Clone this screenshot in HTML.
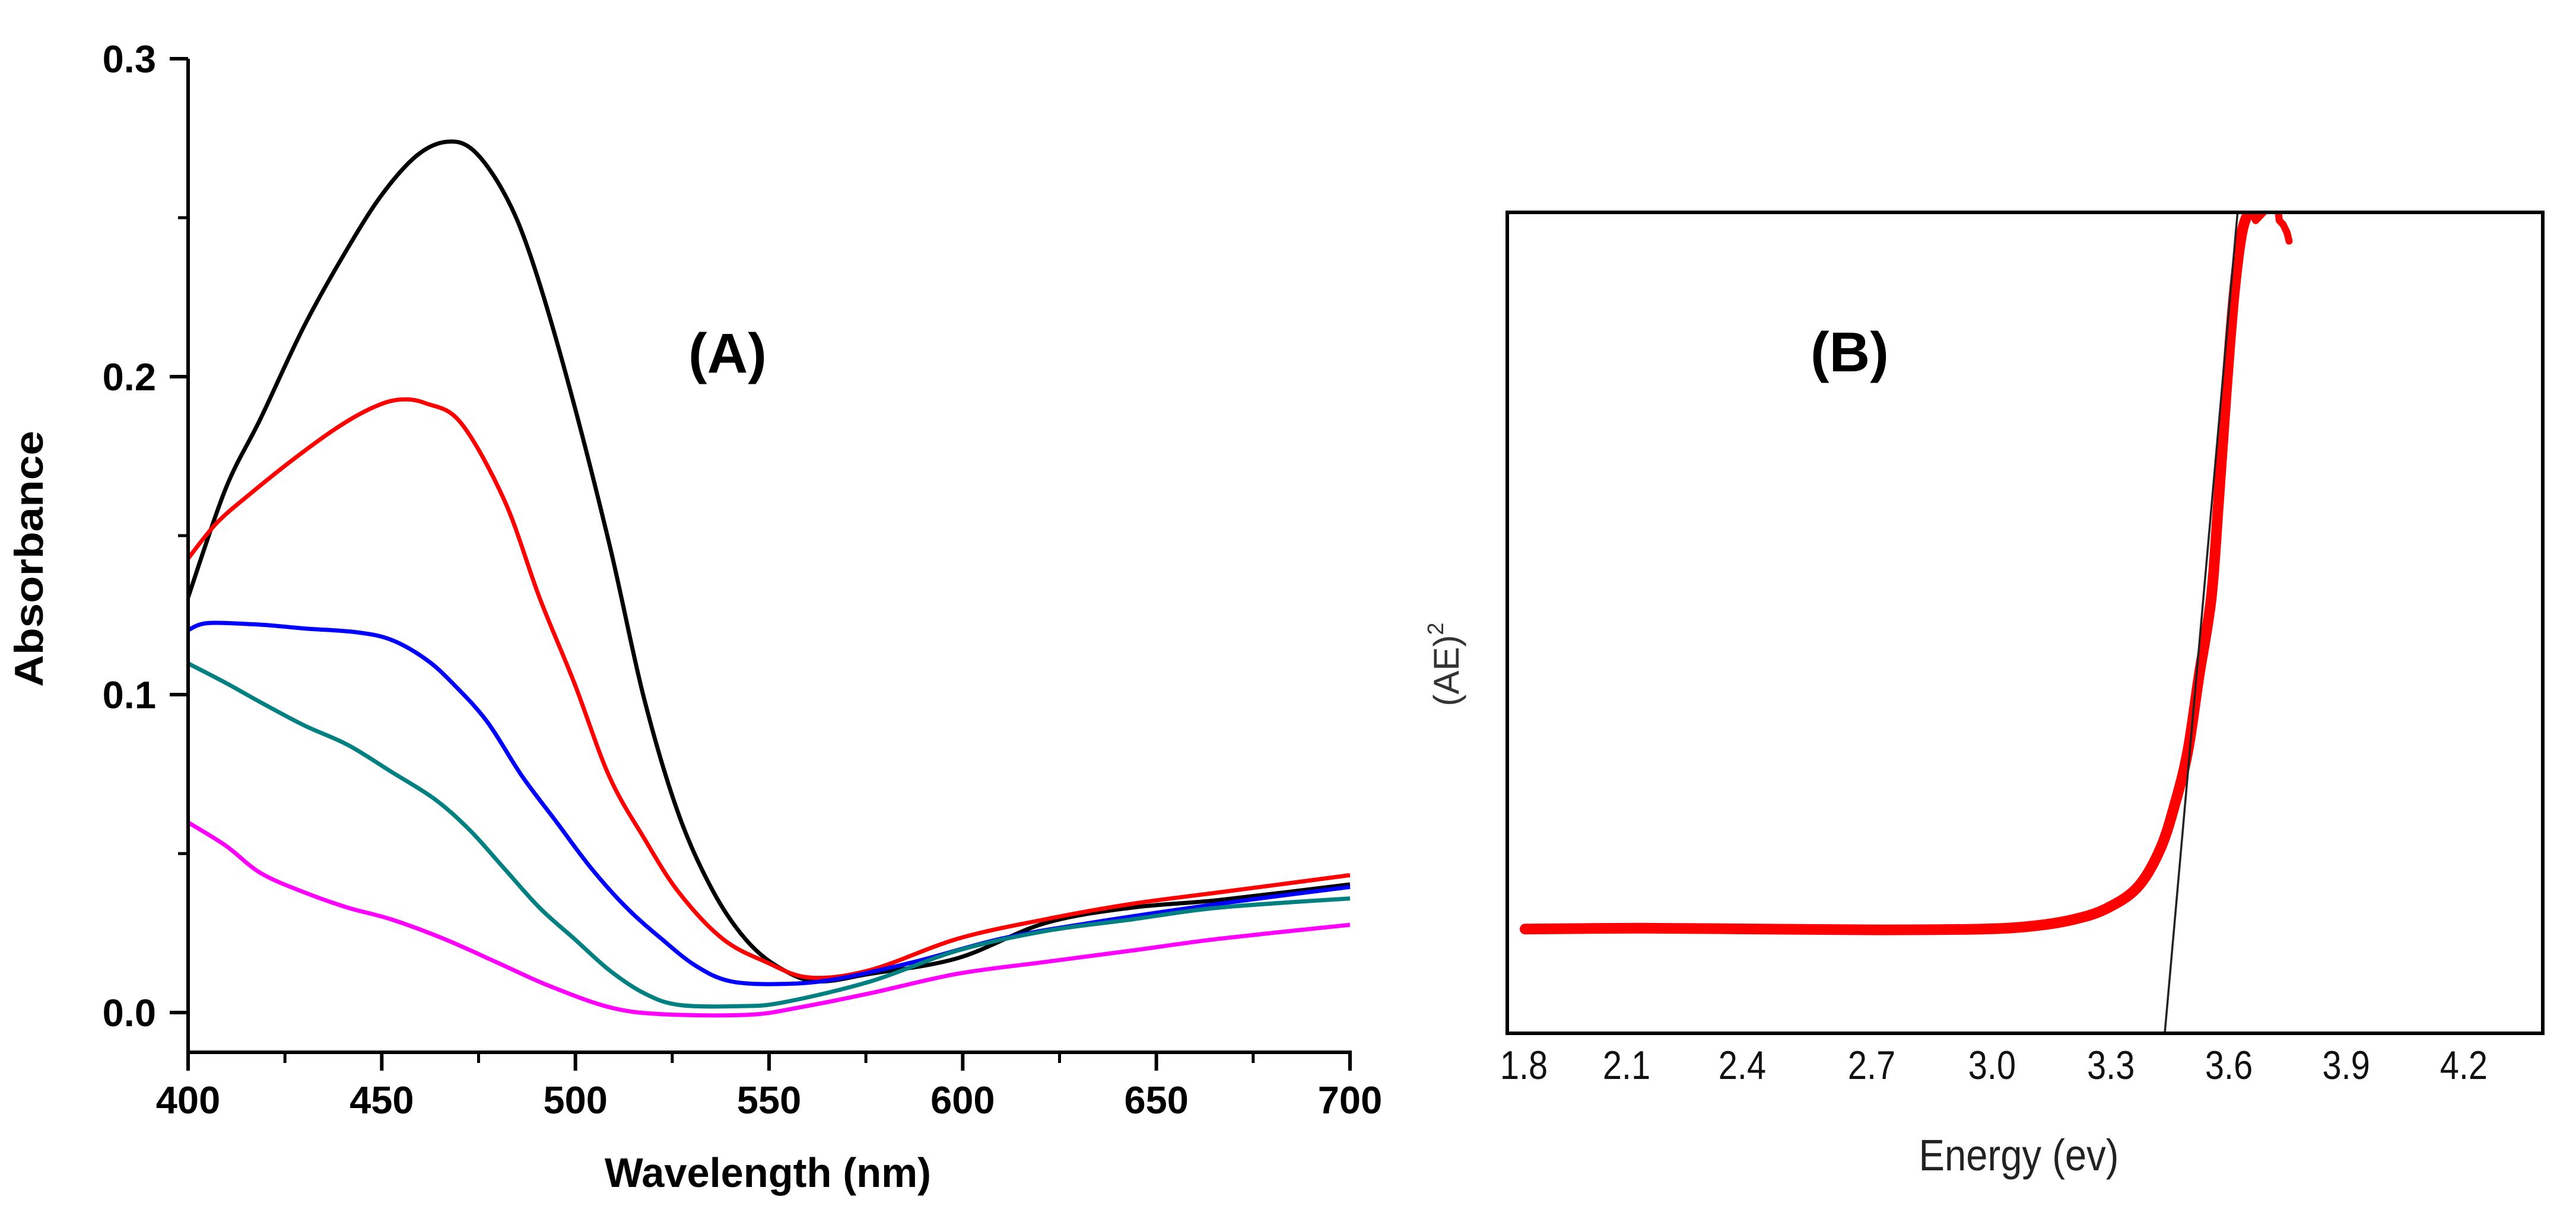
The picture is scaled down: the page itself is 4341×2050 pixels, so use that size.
<!DOCTYPE html>
<html><head><meta charset="utf-8">
<style>html,body{margin:0;padding:0;background:#fff;}svg{display:block;}</style>
</head><body>
<svg id="fig" width="4341" height="2050" viewBox="0 0 4341 2050" xmlns="http://www.w3.org/2000/svg">
<rect width="4341" height="2050" fill="#fff"/>
<g id="panelA"></g>
<g id="panelB"></g>
</svg>
<script>
// ---- Panel A data ----
const aXTicks = [400, 450, 500, 550, 600, 650, 700];
const aYTicks = [0.0, 0.1, 0.2, 0.3];
const aYTickLabels = ["0.0", "0.1", "0.2", "0.3"];
const blackX = [400,409.7,418.7,430,441.2,450.2,459.2,467,473.8,481.7,488.4,497.4,508.7,517.7,526.7,535.7,544.7,553.7,562.7,576.2,598.7,621.2,643.7,666.2,700];
const blackY = [0.1306,0.1648,0.1868,0.216,0.2404,0.2575,0.2697,0.2739,0.271,0.2575,0.238,0.2014,0.1477,0.0989,0.0622,0.0378,0.022,0.0134,0.0098,0.0122,0.0171,0.0281,0.033,0.0354,0.0403];
const redX = [400,407.4,416.4,427.7,438.9,447.9,454.7,461.4,470.4,481.7,490.7,499.7,508.7,517.7,526.7,538,549.2,560.5,576.2,598.7,621.2,643.7,666.2,700];
const redY = [0.1428,0.154,0.1635,0.1745,0.1843,0.1904,0.1928,0.1916,0.1855,0.161,0.1306,0.1037,0.0744,0.0549,0.0378,0.0232,0.0159,0.011,0.0134,0.0232,0.0293,0.0342,0.0378,0.0432];
const blueX = [400,405.2,418.7,430,443.5,452.5,461.4,468.2,477.2,486.2,495.2,504.2,513.2,522.2,531.2,540.2,553.7,567.2,587.4,609.9,632.4,666.2,700];
const blueY = [0.1203,0.1225,0.122,0.1208,0.1196,0.1172,0.1111,0.1037,0.0915,0.0744,0.0598,0.0452,0.033,0.0232,0.0146,0.0098,0.009,0.0105,0.0159,0.0232,0.0281,0.0342,0.0395];
const tealX = [400,409.7,418.7,430,441.2,452.5,463.7,472.7,481.7,490.7,499.7,508.7,517.7,526.7,542.4,553.7,576.2,598.7,621.2,643.7,666.2,700];
const tealY = [0.1098,0.1037,0.0976,0.0903,0.0842,0.0757,0.0671,0.0574,0.0452,0.033,0.0232,0.0134,0.0061,0.0024,0.002,0.0032,0.0098,0.0195,0.0256,0.0293,0.033,0.0359];
const magX = [400,409.7,418.7,430,441.2,452.5,466,479.5,493,508.7,522.2,544.7,558.2,576.2,598.7,621.2,643.7,666.2,700];
const magY = [0.0598,0.0525,0.0439,0.0378,0.033,0.0293,0.0232,0.0159,0.0085,0.0017,-0.0005,-0.0007,0.0017,0.0061,0.0122,0.0159,0.0195,0.0232,0.0276];

// ---- Panel B data ----
const bXTickLabels = ["1.8","2.1","2.4","2.7","3.0","3.3","3.6","3.9","4.2"];
const bXTickE = [1.8, 2.061, 2.355, 2.684, 2.99, 3.292, 3.592, 3.89, 4.189];
const taucE = [1.803,2.1,2.4,2.7,2.967,3.1,3.2,3.281,3.36,3.418,3.458,3.488,3.516,3.547,3.566,3.586,3.605,3.625,3.645];
const taucV = [12.7,12.8,12.7,12.6,12.7,13.1,13.9,15.2,17.8,22.5,28.5,34.5,43.5,53,65,78.6,89.9,97.5,100.3];
const noiseE = [3.645,3.66,3.70,3.715,3.72,3.73,3.74,3.745];
const noiseV = [100.5,99,101,101,99,98.5,97.5,96.5];
const fitE = [3.429, 3.614];
const fitV = [0, 100];

const NS = "http://www.w3.org/2000/svg";
function mk(parent, tag, attrs, text) {
  const e = document.createElementNS(NS, tag);
  for (const k in attrs) e.setAttribute(k, attrs[k]);
  if (text !== undefined) e.textContent = text;
  parent.appendChild(e);
  return e;
}

// Panel A scales
const ax = v => 317 + (v - 400) * (2275 - 317) / 300;
const ay = v => 1707 - v * (1707 - 99) / 0.3;
const A = document.getElementById('panelA');
const fontBold = '"Liberation Sans", Arial, sans-serif';

function smoothPath(xs, ys, fx, fy) {
  const P = xs.map((x, i) => [fx(x), fy(ys[i])]);
  let d = 'M' + P[0][0].toFixed(1) + ' ' + P[0][1].toFixed(1);
  for (let i = 0; i < P.length - 1; i++) {
    const p0 = P[Math.max(0, i - 1)], p1 = P[i], p2 = P[i + 1], p3 = P[Math.min(P.length - 1, i + 2)];
    const c1 = [p1[0] + (p2[0] - p0[0]) / 6, p1[1] + (p2[1] - p0[1]) / 6];
    const c2 = [p2[0] - (p3[0] - p1[0]) / 6, p2[1] - (p3[1] - p1[1]) / 6];
    d += ' C' + c1[0].toFixed(1) + ' ' + c1[1].toFixed(1) + ' ' + c2[0].toFixed(1) + ' ' + c2[1].toFixed(1) + ' ' + p2[0].toFixed(1) + ' ' + p2[1].toFixed(1);
  }
  return d;
}
function pathFrom(xs, ys, fx, fy) {
  return xs.map((x, i) => (i ? 'L' : 'M') + fx(x).toFixed(1) + ' ' + fy(ys[i]).toFixed(1)).join(' ');
}

const series = [
  ['curve-black', blackX, blackY, '#000000'],
  ['curve-red', redX, redY, '#ff0000'],
  ['curve-blue', blueX, blueY, '#0000ff'],
  ['curve-teal', tealX, tealY, '#008080'],
  ['curve-magenta', magX, magY, '#ff00ff']
];
series.forEach(s => {
  const p = mk(A, 'path', {d: smoothPath(s[1], s[2], ax, ay), fill: 'none', stroke: s[3], 'stroke-width': 7, 'stroke-linejoin': 'round'});
  
  
});

// Axes A
const yAxis = mk(A, 'line', {x1: 317, y1: 99, x2: 317, y2: 1774, stroke: '#000', 'stroke-width': 6});


const xAxis = mk(A, 'line', {x1: 314, y1: 1774, x2: 2278, y2: 1774, stroke: '#000', 'stroke-width': 6});



aYTicks.forEach((v, i) => {
  const t = mk(A, 'line', {x1: 286, y1: ay(v), x2: 317, y2: ay(v), stroke: '#000', 'stroke-width': 6});
  
  
  const l = mk(A, 'text', {x: 263, y: ay(v) + 23, 'text-anchor': 'end', 'font-family': fontBold, 'font-weight': 'bold', 'font-size': 65}, aYTickLabels[i]);
  
  
  if (i < aYTicks.length - 1) {
    const m = mk(A, 'line', {x1: 300, y1: ay(v + 0.05), x2: 317, y2: ay(v + 0.05), stroke: '#000', 'stroke-width': 5});
    
    
  }
});
aXTicks.forEach((v, i) => {
  const t = mk(A, 'line', {x1: ax(v), y1: 1774, x2: ax(v), y2: 1805, stroke: '#000', 'stroke-width': 6});
  
  
  const l = mk(A, 'text', {x: ax(v), y: 1877, 'text-anchor': 'middle', 'font-family': fontBold, 'font-weight': 'bold', 'font-size': 65}, String(v));
  
  
  if (i < aXTicks.length - 1) {
    const m = mk(A, 'line', {x1: ax(v + 25), y1: 1774, x2: ax(v + 25), y2: 1792, stroke: '#000', 'stroke-width': 5});
    
    
  }
});
const xt = mk(A, 'text', {x: 1294, y: 2001, 'text-anchor': 'middle', 'font-family': fontBold, 'font-weight': 'bold', 'font-size': 70, textLength: 550, lengthAdjust: 'spacingAndGlyphs'}, 'Wavelength (nm)');


const yt = mk(A, 'text', {x: 0, y: 0, transform: 'translate(72 942) rotate(-90)', 'text-anchor': 'middle', 'font-family': fontBold, 'font-weight': 'bold', 'font-size': 68, textLength: 432, lengthAdjust: 'spacingAndGlyphs'}, 'Absorbance');


const la = mk(A, 'text', {x: 1226, y: 628, 'text-anchor': 'middle', 'font-family': fontBold, 'font-weight': 'bold', 'font-size': 95}, '(A)');



// Panel B scales
const BL = 2540, BR = 4285, BT = 358, BB = 1742;
const bx = e => 2568 + (e - 1.8) * 663;
const by = v => BB - v * (BB - BT) / 100;
const B = document.getElementById('panelB');
const defs = mk(B, 'defs', {});
const cp = mk(defs, 'clipPath', {id: 'clipB'});
mk(cp, 'rect', {x: BL, y: BT, width: BR - BL, height: BB - BT});

const red = mk(B, 'path', {d: smoothPath(taucE, taucV, bx, by), fill: 'none', stroke: '#ff0000', 'stroke-width': 18, 'stroke-linejoin': 'round', 'stroke-linecap': 'round', 'clip-path': 'url(#clipB)'});


const nz = mk(B, 'path', {d: pathFrom(noiseE, noiseV, bx, by), fill: 'none', stroke: '#ff0000', 'stroke-width': 12, 'stroke-linejoin': 'round', 'stroke-linecap': 'round', 'clip-path': 'url(#clipB)'});


const fit = mk(B, 'path', {d: pathFrom(fitE, fitV, bx, by), fill: 'none', stroke: '#222', 'stroke-width': 3.5});



const frame = mk(B, 'rect', {x: BL, y: BT, width: BR - BL, height: BB - BT, fill: 'none', stroke: '#000', 'stroke-width': 6});



const fontReg = '"Liberation Sans", Arial, sans-serif';
bXTickLabels.forEach((s, i) => {
  const l = mk(B, 'text', {x: bx(bXTickE[i]), y: 1819, 'text-anchor': 'middle', 'font-family': fontReg, 'font-size': 68, fill: '#111', transform: 'translate(' + bx(bXTickE[i]) + ' 0) scale(0.85 1) translate(' + (-bx(bXTickE[i])) + ' 0)'}, s);
  
  
});
const bxt = mk(B, 'text', {x: 3402, y: 1973, 'text-anchor': 'middle', 'font-family': fontReg, 'font-size': 74, fill: '#222', textLength: 337, lengthAdjust: 'spacingAndGlyphs'}, 'Energy (ev)');


const byt = mk(B, 'text', {x: 0, y: 0, transform: 'translate(2458 1120) rotate(-90)', 'text-anchor': 'middle', 'font-family': fontReg, 'font-size': 60, fill: '#333'});


mk(byt, 'tspan', {}, '(AE)');
mk(byt, 'tspan', {'font-size': 38, dy: -26}, '2');
const lb = mk(B, 'text', {x: 3117, y: 626, 'text-anchor': 'middle', 'font-family': fontBold, 'font-weight': 'bold', 'font-size': 95}, '(B)');


</script>
</body></html>
